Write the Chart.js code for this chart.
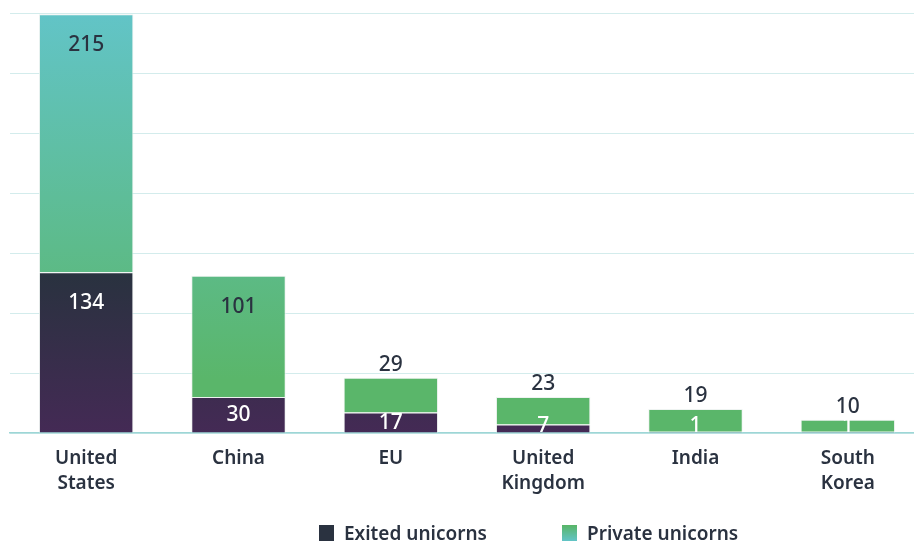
<!DOCTYPE html>
<html>
<head>
<meta charset="utf-8">
<script src="https://cdn.jsdelivr.net/npm/chart.js@4/dist/chart.umd.min.js"></script>
<style>
  html, body { margin: 0; padding: 0; background: #fff; overflow: hidden; }
  #wrap { position: relative; width: 924px; height: 541px; }
  .legend { position: absolute; top: 520px; font: 600 19px "Noto Sans", sans-serif; color: #2a3240; display: flex; align-items: center; white-space: nowrap; }
  .legend .sw { width: 15px; height: 16px; margin-right: 10px; }
</style>
</head>
<body>
<div id="wrap">
  <canvas id="c"></canvas>
  <div class="legend" style="left:319px"><span class="sw" style="background:#2a3240"></span>Exited unicorns</div>
  <div class="legend" style="left:562px"><span class="sw" style="background:linear-gradient(#58b566,#62c4c7)"></span>Private unicorns</div>
</div>
<script>
// Unicorn counts by economy
const categories = [['United', 'States'], 'China', 'EU', ['United', 'Kingdom'], 'India', ['South', 'Korea']];
const exitedUnicorns = [134, 30, 17, 7, 1, 1];
const privateUnicorns = [215, 101, 29, 23, 19, 10];
const seriesNames = ['Exited unicorns', 'Private unicorns'];

const FONT = '"Noto Sans", sans-serif';
const TEXT = '#2a3240';

function exitedFill(ctx) {
  const chart = ctx.chart;
  const y = chart.scales.y;
  if (!chart.chartArea || !y) return '#3a2d4e';
  const top = y.getPixelForValue(Math.max(...exitedUnicorns));
  const bottom = y.getPixelForValue(0);
  const g = chart.ctx.createLinearGradient(0, top, 0, bottom);
  g.addColorStop(0, '#29323f');
  g.addColorStop(1, '#442a55');
  return g;
}

function privateFill(ctx) {
  const chart = ctx.chart;
  const y = chart.scales.y;
  if (!chart.chartArea || !y) return '#5ab66a';
  const totals = exitedUnicorns.map((v, i) => v + privateUnicorns[i]);
  const top = y.getPixelForValue(Math.max(...totals));
  const bottom = y.getPixelForValue(44);
  const g = chart.ctx.createLinearGradient(0, top, 0, bottom);
  g.addColorStop(0, '#62c4c7');
  g.addColorStop(1, '#5ab66a');
  return g;
}

// Value labels: inside tall segments, above short private segments
const valueLabels = {
  id: 'valueLabels',
  afterDatasetsDraw(chart) {
    const c = chart.ctx;
    c.save();
    c.font = '500 21px ' + FONT;
    c.textAlign = 'center';
    c.textBaseline = 'middle';
    chart.data.datasets.forEach((ds, di) => {
      const meta = chart.getDatasetMeta(di);
      meta.data.forEach((el, i) => {
        const top = Math.min(el.y, el.base);
        const bottom = Math.max(el.y, el.base);
        const h = bottom - top;
        let ty, color;
        if (di === 0) {
          color = '#ffffff';
          ty = h >= 60 ? top + 31 : Math.min((top + bottom) / 2, 426);
        } else {
          color = TEXT;
          ty = h >= 60 ? top + 31 : top - 13;
        }
        c.fillStyle = color;
        c.fillText(String(ds.data[i]), el.x, ty);
      });
    });
    c.restore();
  }
};

new Chart(document.getElementById('c'), {
  type: 'bar',
  data: {
    labels: categories,
    datasets: [
      {
        label: seriesNames[0],
        data: exitedUnicorns,
        backgroundColor: exitedFill,
        borderColor: 'rgba(236,242,240,0.9)',
        borderWidth: 1,
        barPercentage: 1,
        categoryPercentage: 0.62
      },
      {
        label: seriesNames[1],
        data: privateUnicorns,
        backgroundColor: privateFill,
        borderColor: 'rgba(236,242,240,0.9)',
        borderWidth: 1,
        barPercentage: 1,
        categoryPercentage: 0.62
      }
    ]
  },
  options: {
    responsive: true,
    maintainAspectRatio: false,
    animation: false,
    layout: { padding: { top: 13, left: 10, right: 0, bottom: 38 } },
    plugins: {
      legend: { display: false },
      tooltip: { enabled: false }
    },
    scales: {
      x: {
        stacked: true,
        grid: { display: false },
        border: { display: true, color: '#9dd6d6', width: 1.5 },
        ticks: {
          color: TEXT,
          font: { family: FONT, size: 19, weight: 600, lineHeight: 1.32 },
          padding: 5,
          maxRotation: 0,
          autoSkip: false
        },
        afterFit(scale) { scale.height = 70; }
      },
      y: {
        stacked: true,
        min: 0,
        max: 350,
        ticks: { display: false, stepSize: 50 },
        grid: { color: '#d3ecec', lineWidth: 1, drawTicks: false },
        border: { display: false },
        afterFit(scale) { scale.width = 0; }
      }
    }
  },
  plugins: [valueLabels]
});
</script>
</body>
</html>
